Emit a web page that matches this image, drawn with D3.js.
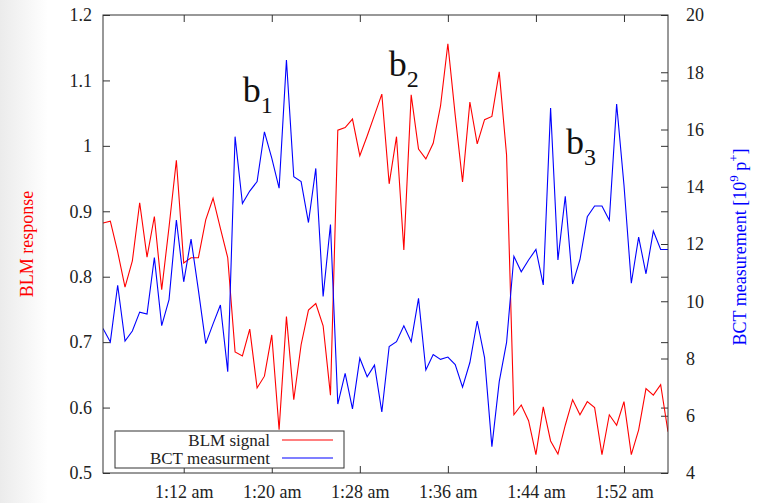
<!DOCTYPE html>
<html><head><meta charset="utf-8">
<script src="https://cdn.jsdelivr.net/npm/d3@7"></script>
<style>
html,body{margin:0;padding:0;background:#fff;}
svg{display:block;}
</style></head><body>
<script>
// ---- data ----
const times = ["1:04:40","1:05:20","1:06:00","1:06:40","1:07:20","1:08:00","1:08:40","1:09:20","1:10:00","1:10:40",
"1:11:20","1:12:00","1:12:40","1:13:20","1:14:00","1:14:40","1:15:20","1:16:00","1:16:40","1:17:20",
"1:18:00","1:18:40","1:19:20","1:20:00","1:20:40","1:21:20","1:22:00","1:22:40","1:23:20","1:24:00",
"1:24:40","1:25:20","1:26:00","1:26:40","1:27:20","1:28:00","1:28:40","1:29:20","1:30:00","1:30:40",
"1:31:20","1:32:00","1:32:40","1:33:20","1:34:00","1:34:40","1:35:20","1:36:00","1:36:40","1:37:20",
"1:38:00","1:38:40","1:39:20","1:40:00","1:40:40","1:41:20","1:42:00","1:42:40","1:43:20","1:44:00",
"1:44:40","1:45:20","1:46:00","1:46:40","1:47:20","1:48:00","1:48:40","1:49:20","1:50:00","1:50:40",
"1:51:20","1:52:00","1:52:40","1:53:20","1:54:00","1:54:40","1:55:20","1:56:00"];
const blmSignal = [0.882,0.885,0.838,0.784,0.824,0.913,0.830,0.892,0.780,0.876,
0.978,0.821,0.829,0.829,0.887,0.920,0.874,0.829,0.685,0.679,
0.720,0.630,0.648,0.711,0.566,0.739,0.612,0.696,0.749,0.759,
0.725,0.619,1.024,1.028,1.041,0.985,1.015,1.047,1.079,0.942,
1.014,0.841,1.078,0.995,0.980,1.004,1.061,1.156,1.047,0.945,
1.067,1.003,1.040,1.045,1.113,0.986,0.589,0.604,0.580,0.528,
0.601,0.549,0.529,0.573,0.612,0.589,0.609,0.600,0.528,0.589,
0.573,0.609,0.528,0.566,0.629,0.619,0.635,0.563];
const bctMeasurement = [9.05,8.58,10.56,8.61,8.96,9.62,9.55,11.53,9.15,10.06,
12.84,10.68,12.17,10.39,8.52,9.21,9.87,7.54,15.75,13.41,
13.85,14.18,15.92,15.00,13.95,18.43,14.35,14.18,12.75,14.64,
10.17,12.68,6.41,7.48,6.24,8.01,7.36,7.77,6.13,8.42,
8.59,9.14,8.59,10.10,7.60,8.14,7.97,8.05,7.79,7.00,
7.86,9.31,8.03,4.92,7.19,8.56,11.57,11.03,11.44,11.81,
10.57,16.75,11.44,13.67,10.60,11.45,12.95,13.33,13.33,12.83,
16.89,14.06,10.63,12.24,10.96,12.45,11.81,11.81];
const xTickTimes = ["1:12:00","1:20:00","1:28:00","1:36:00","1:44:00","1:52:00"];
const xTickLabels = ["1:12 am","1:20 am","1:28 am","1:36 am","1:44 am","1:52 am"];
const yLeftTicks = [0.5,0.6,0.7,0.8,0.9,1.0,1.1,1.2];
const yLeftLabels = ["0.5","0.6","0.7","0.8","0.9","1","1.1","1.2"];
const yRightTicks = [4,6,8,10,12,14,16,18,20];
const seriesNames = ["BLM signal","BCT measurment"];
const annoLabels = ["1","2","3"];
const annoTimes = ["1:17:22","1:30:38","1:46:44"];
const annoValues = [1.067,1.107,0.988];

// ---- drawing ----
const W = 760, H = 503;
const L = 103, R = 668, T = 15, B = 473;
const FONT = "'Liberation Serif','Times New Roman',serif";
const parseT = s => { const p = s.split(":").map(Number); return new Date(2000,0,1,p[0],p[1],p[2]||0); };
const tDates = times.map(parseT);

const x = d3.scaleTime().domain([tDates[0], tDates[tDates.length-1]]).range([L, R]);
const yL = d3.scaleLinear().domain([0.5,1.2]).range([B, T]);
const yR = d3.scaleLinear().domain([4,20]).range([B, T]);

const svg = d3.select("body").append("svg").attr("width", W).attr("height", H)
  .style("font-family", FONT);

const defs = svg.append("defs");
const g1 = defs.append("linearGradient").attr("id","bg").attr("x1","0").attr("x2","1").attr("y1","0").attr("y2","0");
g1.append("stop").attr("offset","0").attr("stop-color","#ebebeb");
g1.append("stop").attr("offset","1").attr("stop-color","#ffffff");
svg.append("rect").attr("x",0).attr("y",0).attr("width",48).attr("height",H).attr("fill","url(#bg)");

const axisColor = "#333";
function styleAxis(g, showText) {
  g.select(".domain").remove();
  g.selectAll("line").attr("stroke", axisColor).attr("stroke-width", 1);
  g.attr("font-family", FONT).attr("font-size", 18);
  g.selectAll("text").attr("fill", "#222");
  if (!showText) g.selectAll("text").remove();
}

// left axis
svg.append("g").attr("transform", `translate(${L},0)`)
  .call(d3.axisLeft(yL).tickValues(yLeftTicks).tickFormat((d,i)=>yLeftLabels[i]).tickSizeInner(-7).tickSizeOuter(0).tickPadding(11))
  .call(g => styleAxis(g, true));
// left mirrored on right border
svg.append("g").attr("transform", `translate(${R},0)`)
  .call(d3.axisRight(yL).tickValues(yLeftTicks).tickSizeInner(-7).tickSizeOuter(0))
  .call(g => styleAxis(g, false));
// right axis
svg.append("g").attr("transform", `translate(${R},0)`)
  .call(d3.axisRight(yR).tickValues(yRightTicks).tickSizeInner(-7).tickSizeOuter(0).tickPadding(18))
  .call(g => styleAxis(g, true));
// bottom axis
const xTicks = xTickTimes.map(parseT);
svg.append("g").attr("transform", `translate(0,${B})`)
  .call(d3.axisBottom(x).tickValues(xTicks).tickFormat((d,i)=>xTickLabels[i]).tickSizeInner(-7).tickSizeOuter(0).tickPadding(12))
  .call(g => styleAxis(g, true));
// top mirrored
svg.append("g").attr("transform", `translate(0,${T})`)
  .call(d3.axisTop(x).tickValues(xTicks).tickSizeInner(-7).tickSizeOuter(0))
  .call(g => styleAxis(g, false));

// lines
const blmLine = d3.line().x((d,i)=>x(tDates[i])).y(d=>yL(d));
const bctLine = d3.line().x((d,i)=>x(tDates[i])).y(d=>yR(d));
const clip = defs.append("clipPath").attr("id","plot");
clip.append("rect").attr("x",L).attr("y",T).attr("width",R-L).attr("height",B-T);
const plot = svg.append("g").attr("clip-path","url(#plot)");
plot.append("path").datum(blmSignal).attr("d", blmLine).attr("fill","none")
  .attr("stroke","#ff0000").attr("stroke-width",1.1).attr("stroke-linejoin","miter");
plot.append("path").datum(bctMeasurement).attr("d", bctLine).attr("fill","none")
  .attr("stroke","#0000ff").attr("stroke-width",1.1).attr("stroke-linejoin","miter");

// frame
svg.append("rect").attr("x",L).attr("y",T).attr("width",R-L).attr("height",B-T)
  .attr("fill","none").attr("stroke",axisColor).attr("stroke-width",1);

// axis titles
svg.append("text").attr("transform","translate(33,244) rotate(-90)")
  .attr("text-anchor","middle").attr("font-size",18).attr("fill","#ff0000").text("BLM response");
const rt = svg.append("text").attr("transform","translate(746,247) rotate(-90)")
  .attr("text-anchor","middle").attr("font-size",18).attr("fill","#0000ff");
rt.append("tspan").text("BCT measurement [10");
rt.append("tspan").attr("font-size",13).attr("dy",-8).text("9");
rt.append("tspan").attr("dy",8).text(" p");
rt.append("tspan").attr("font-size",13).attr("dy",-8).text("+");
rt.append("tspan").attr("dy",8).text("]");

// annotations
annoLabels.forEach((s,i) => {
  const t = svg.append("text").attr("x", x(parseT(annoTimes[i]))).attr("y", yL(annoValues[i]))
    .attr("font-size",36).attr("fill","#111");
  t.append("tspan").text("b");
  t.append("tspan").attr("font-size",24).attr("dy",11).text(s);
});

// legend
const lg = svg.append("g");
lg.append("rect").attr("x",115).attr("y",431).attr("width",229).attr("height",37)
  .attr("fill","#fff").attr("stroke",axisColor).attr("stroke-width",1);
const legColors = ["#ff0000","#0000ff"];
seriesNames.forEach((n,i) => {
  lg.append("text").attr("x",270).attr("y",446 + i*18).attr("text-anchor","end")
    .attr("font-size",17).attr("fill","#222").text(n);
  lg.append("line").attr("x1",282).attr("x2",333).attr("y1",440 + i*18).attr("y2",440 + i*18)
    .attr("stroke",legColors[i]).attr("stroke-width",1.1);
});
</script>
</body></html>
